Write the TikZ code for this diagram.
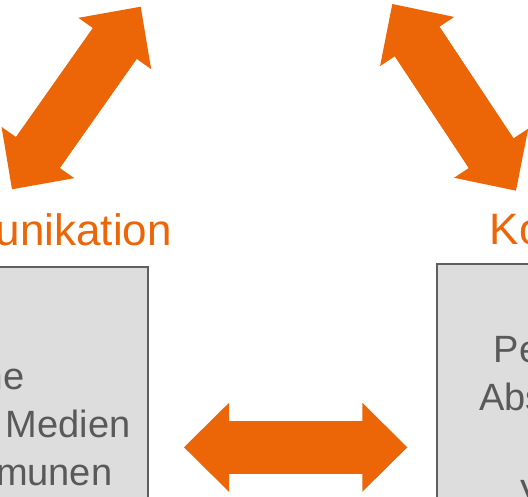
\documentclass[tikz,border=0pt]{standalone}
\usepackage{fontspec}
\setmainfont{Liberation Sans}
\usetikzlibrary{arrows.meta}

\definecolor{kkorange}{RGB}{236,102,8}
\definecolor{kkfill}{RGB}{221,221,221}
\definecolor{kkborder}{RGB}{95,95,95}
\definecolor{kkgray}{RGB}{89,89,89}

\tikzset{
  kktitle/.style={font=\fontsize{44}{53}\selectfont, text=kkorange, inner sep=0pt},
  kkbox/.style={draw=kkborder, fill=kkfill, line width=2pt, minimum width=320pt, minimum height=300pt, inner sep=0pt},
  kktext/.style={font=\fontsize{38}{46}\selectfont, text=kkgray, inner sep=0pt},
  kkarr/.style={draw=kkorange, line width=53.5pt, {Triangle[length=45pt, width=89pt, line width=0pt]}-{Triangle[length=45pt, width=89pt, line width=0pt]}},
  kkshaft/.style={draw=kkorange, line width=53.5pt, shorten <=40pt, shorten >=40pt}
}

\begin{document}
\begin{tikzpicture}[x=1pt,y=-1pt]
        \useasboundingbox (0,0) rectangle (528,497);
        \clip (0,0) rectangle (528,497);

        % Titel
        \node[kktitle, anchor=base east] (kommtitel) at (172,245.7) {Kommunikation};
        \node[kktitle, anchor=base west] (koordtitel) at (489.5,244.3) {Koordination};

        % Kaesten
        \node[kkbox, anchor=north east] (kommbox) at (149,266.5) {};
        \node[kkbox, anchor=north west] (koordbox) at (436,262.7) {};

        \node[kktext, anchor=base east] (komm1) at (24.8,389.5) {Gemeinsame};
        \node[kktext, anchor=base east] (komm2) at (130.8,437.5) {Nutzung der Medien};
        \node[kktext, anchor=base east] (komm3) at (112.5,485) {der Kommunen};

        \node[kktext, anchor=base west] (koord1) at (493.5,362.7) {Personen};
        \node[kktext, anchor=base west] (koord2) at (479,410.7) {Absprachen};
        \node[kktext, anchor=base west] (koord4) at (520,506.7) {Verteilung};

        % Pfeilenden
        \coordinate (obenL) at (140.7,6.7);
        \coordinate (untenL) at (12,189.3);
        \coordinate (obenR) at (392.3,4);
        \coordinate (untenR) at (516,190.7);
        \coordinate (kommpf) at (184,447.3);
        \coordinate (koordpf) at (407.3,447.3);

        \draw[kkarr] (untenL) -- (obenL);
        \draw[kkarr] (obenR) -- (untenR);
        \draw[kkarr] (kommpf) -- (koordpf);

        % Naht zwischen Schaft und Spitze schliessen
        \draw[kkshaft] (untenL) -- (obenL);
        \draw[kkshaft] (obenR) -- (untenR);
        \draw[kkshaft] (kommpf) -- (koordpf);
    \end{tikzpicture}
\end{document}
